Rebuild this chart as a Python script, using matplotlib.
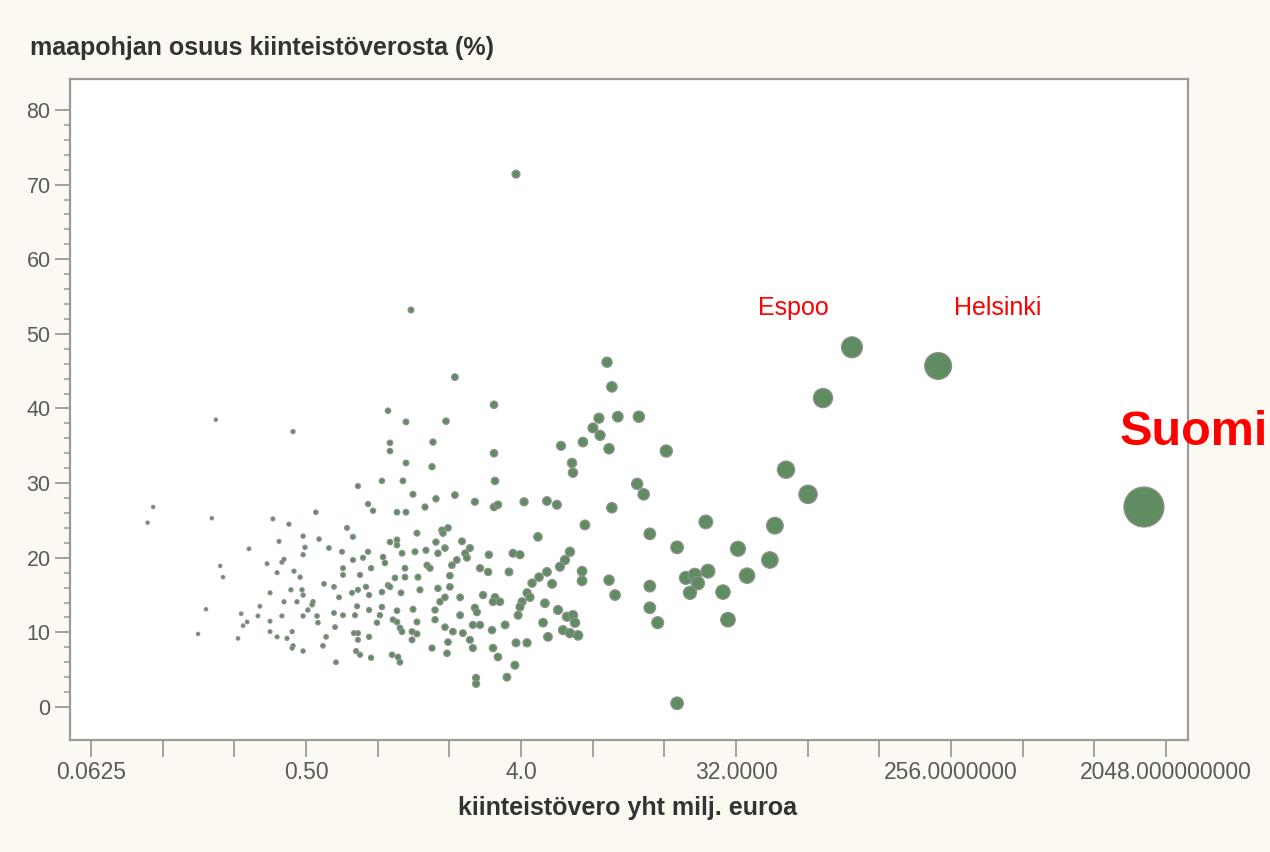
import matplotlib
matplotlib.use("Agg")
import matplotlib.pyplot as plt
from matplotlib.ticker import FixedLocator, FixedFormatter, NullLocator
import numpy as np

plt.rcParams['font.family'] = ['Liberation Sans', 'DejaVu Sans']

# kiinteistövero yhteensä (milj. euroa)
tax_total = [
    0.114, 0.108, 0.201, 0.363, 0.424, 0.486, 0.385, 0.288, 0.495, 0.486,
    0.404, 0.396, 0.343, 0.218, 0.224, 0.378, 0.445, 0.472, 0.353, 0.432,
    0.481, 0.486, 0.404, 0.458, 0.320, 0.190, 0.267, 0.314, 0.396, 0.486,
    0.283, 0.272, 0.353, 0.353, 0.437, 0.378, 0.416, 0.259, 0.176, 0.441,
    0.437, 0.486,
    3.81, 1.38, 2.11, 3.08, 1.105, 1.315, 1.936, 0.209, 0.441, 1.126,
    1.126, 1.707, 3.08, 1.315, 1.691, 3.11, 0.826, 1.042, 1.277, 5.89,
    7.28, 6.55, 6.61,
    1.407, 0.550, 0.911, 0.956, 1.205, 1.315, 1.580, 1.757, 0.743, 0.787,
    0.567, 0.624, 0.708, 0.787, 0.868, 0.911, 1.126, 1.205, 1.205, 1.053,
    1.265, 1.434, 1.595, 1.462, 0.938, 0.715, 0.715, 0.843, 1.073, 1.302,
    1.302, 1.182, 1.611, 1.659, 1.476, 0.595, 0.655, 0.688, 0.780, 0.826,
    0.893, 0.920, 1.042, 1.105, 1.126, 1.253, 1.505, 0.535, 0.530, 0.509,
    0.556, 0.655, 0.715, 0.803, 0.819, 0.920, 1.042, 1.022, 1.205, 1.407,
    1.741, 0.561, 0.662, 0.993, 1.159, 1.205, 1.462, 1.240, 1.265, 0.795,
    0.826, 0.826, 0.920, 1.394, 1.462, 1.394, 0.607, 0.589, 0.811, 0.843,
    0.938, 1.149, 1.217, 1.240, 0.668, 1.691,
    2.11, 2.56, 3.08, 3.20, 4.12, 5.14, 5.66, 7.42, 1.862, 1.974,
    1.880, 2.26, 1.757, 4.71, 1.917, 1.791, 2.44, 2.33, 2.37, 2.93,
    3.70, 3.96, 2.15, 2.05, 6.42, 6.12, 5.83, 2.69, 2.91, 3.56,
    2.01, 5.14, 4.76, 4.45, 7.22, 7.22, 5.40, 2.01, 1.791, 1.917,
    1.826, 2.22, 2.77, 3.11, 3.05, 3.26, 4.24, 4.36, 4.04, 3.96,
    5.04, 5.72, 6.24, 6.61, 2.56, 2.61, 2.22, 1.741, 3.89, 1.917,
    2.51, 2.69, 3.43, 4.95, 6.74, 2.07, 2.28, 3.02, 6.00, 6.42,
    6.94, 2.44, 2.51, 1.974, 5.19, 3.81, 4.24, 1.955, 3.05, 3.20,
    3.77, 3.49, 2.59, 2.59,
    9.19, 9.63, 8.50, 8.02, 8.59, 10.2, 12.5, 9.37, 16.3, 12.3,
    13.1, 9.63, 13.9, 23.9, 18.1, 32.6, 9.37, 9.93, 13.9, 19.7,
    21.5, 22.1, 24.4, 20.5, 35.6, 28.2, 13.9, 15.0, 29.6, 18.1,
    44.4, 46.6, 51.9, 64.2, 74.2, 98.2, 226.0, 1654.0,
]

# maapohjan osuus kiinteistöverosta (%)
land_share = [
    26.8, 24.7, 25.3, 25.2, 24.5, 22.9, 22.2, 21.2, 21.4, 20.4,
    19.8, 19.4, 19.2, 18.9, 17.4, 18.0, 18.2, 17.4, 15.3, 15.7,
    15.7, 15.0, 14.1, 14.1, 13.5, 13.1, 12.5, 12.2, 12.2, 12.2,
    11.4, 10.9, 11.5, 10.1, 10.1, 9.4, 9.2, 9.2, 9.8, 8.2,
    7.9, 7.5,
    71.4, 53.2, 44.2, 40.5, 39.7, 38.2, 38.3, 38.5, 36.9, 35.4,
    34.3, 35.5, 34.0, 32.7, 32.2, 30.3, 29.6, 30.3, 30.3, 35.0,
    35.5, 32.7, 31.4,
    28.5, 26.1, 27.2, 26.3, 26.1, 26.1, 26.8, 27.9, 24.0, 22.8,
    22.5, 21.3, 20.8, 19.7, 20.0, 20.8, 22.1, 22.4, 21.7, 20.1,
    20.6, 20.8, 21.0, 23.3, 18.6, 18.6, 17.7, 17.7, 19.3, 18.6,
    17.4, 17.3, 19.0, 18.6, 17.4, 16.5, 16.1, 14.7, 15.3, 15.7,
    16.1, 15.0, 15.4, 16.3, 16.1, 15.3, 15.7, 14.1, 13.7, 13.0,
    12.2, 12.6, 12.3, 12.3, 13.5, 13.0, 13.4, 12.3, 12.9, 13.1,
    13.0, 11.3, 10.7, 11.3, 11.7, 11.4, 11.4, 10.6, 10.1, 9.9,
    9.9, 9.0, 9.4, 10.1, 9.8, 9.0, 9.4, 8.2, 7.5, 7.0,
    6.6, 7.0, 6.7, 6.0, 6.0, 7.9,
    28.4, 27.5, 26.8, 27.1, 27.5, 27.6, 27.1, 24.4, 23.7, 24.0,
    23.3, 22.2, 22.1, 22.8, 21.3, 20.6, 21.3, 20.6, 20.0, 20.4,
    20.6, 20.4, 19.7, 19.0, 20.8, 19.7, 18.8, 18.6, 18.1, 18.1,
    17.6, 18.1, 17.4, 16.6, 18.2, 16.9, 16.5, 16.1, 15.9, 14.7,
    14.1, 14.7, 15.0, 14.7, 14.1, 14.1, 15.3, 14.7, 14.1, 13.4,
    13.9, 13.0, 12.1, 12.3, 13.3, 12.7, 12.3, 11.7, 12.3, 10.7,
    11.0, 11.0, 11.0, 11.3, 11.3, 10.1, 9.9, 10.3, 10.3, 9.9,
    9.6, 9.0, 7.9, 8.7, 9.4, 8.6, 8.6, 7.2, 7.9, 6.7,
    5.6, 4.0, 3.9, 3.1,
    46.2, 42.9, 38.7, 37.4, 36.4, 38.9, 38.9, 34.6, 34.3, 29.9,
    28.5, 26.7, 23.2, 24.8, 21.4, 21.2, 17.0, 15.0, 16.2, 17.3,
    17.7, 16.6, 18.2, 15.3, 17.6, 15.4, 13.3, 11.3, 11.7, 0.5,
    19.7, 24.3, 31.8, 28.5, 41.4, 48.2, 45.7, 26.8,
]

# labels drawn on the chart: (text, x, y, size, weight)
labels = [("Espoo", 55.5, 53.5, 18, "normal"),
          ("Helsinki", 403.0, 53.5, 18, "normal"),
          ("Suomi", 2680.0, 36.8, 35, "bold")]

x_tick_values = [0.0625, 0.5, 4.0, 32.0, 256.0, 2048.0]
x_tick_labels = ["0.0625", "0.50", "4.0", "32.0000", "256.0000000", "2048.000000000"]
y_tick_values = [0, 10, 20, 30, 40, 50, 60, 70, 80]
y_minor_values = [v for v in range(0, 81, 2) if v % 10 != 0]

W, H = 1270, 852
fig = plt.figure(figsize=(W / 100, H / 100), dpi=100)
fig.patch.set_facecolor("#fcf9f3")
ax = fig.add_axes([70 / W, (H - 740) / H, (1188 - 70) / W, (740 - 79) / H])
ax.set_facecolor("white")

x = np.array(tax_total)
y = np.array(land_share)
diam_px = np.clip(8.0 * (x / 4.0) ** 0.3, 3.3, 40.0)
sizes = (diam_px * 72.0 / 100.0) ** 2
ax.scatter(x, y, s=sizes, facecolor="#5f8c61", edgecolor="#8e928e",
           linewidths=0.9, zorder=3)

ax.set_xscale("log", base=2)
ax.set_xlim(0.051, 2533)
ax.set_ylim(-4.42, 84.15)

all_x_ticks = [2.0 ** k for k in range(-4, 12)]
lab = []
for t in all_x_ticks:
    if t in x_tick_values:
        lab.append(x_tick_labels[x_tick_values.index(t)])
    else:
        lab.append("")
ax.xaxis.set_major_locator(FixedLocator(all_x_ticks))
ax.xaxis.set_major_formatter(FixedFormatter(lab))
ax.xaxis.set_minor_locator(NullLocator())

ax.yaxis.set_major_locator(FixedLocator(y_tick_values))
ax.yaxis.set_minor_locator(FixedLocator(y_minor_values))

tick_gray = "#9a9a9a"
for sp in ax.spines.values():
    sp.set_color(tick_gray)
    sp.set_linewidth(1.6)

ax.tick_params(axis="x", which="major", direction="out", length=12, width=1.3,
               color=tick_gray, labelsize=16.5, labelcolor="#5a5a5a", pad=3)
ax.tick_params(axis="y", which="major", direction="out", length=11, width=1.3,
               color=tick_gray, labelsize=15.5, labelcolor="#5a5a5a", pad=3)
ax.tick_params(axis="y", which="minor", direction="out", length=4.5, width=1.1,
               color=tick_gray)

for text, tx, ty, size, weight in labels:
    ax.text(tx, ty, text, color="#ff0000", fontsize=size, fontweight=weight,
            ha="center", va="center", zorder=4, clip_on=False)

fig.text(30 / W, 1 - 48 / H, "maapohjan osuus kiinteistöverosta (%)",
         fontsize=18, fontweight="bold", color="#333333", ha="left", va="center")
fig.text(628 / W, 1 - 808 / H, "kiinteistövero yht milj. euroa",
         fontsize=18, fontweight="bold", color="#333333", ha="center", va="center")

fig.savefig("out.png", dpi=100, facecolor=fig.get_facecolor())
